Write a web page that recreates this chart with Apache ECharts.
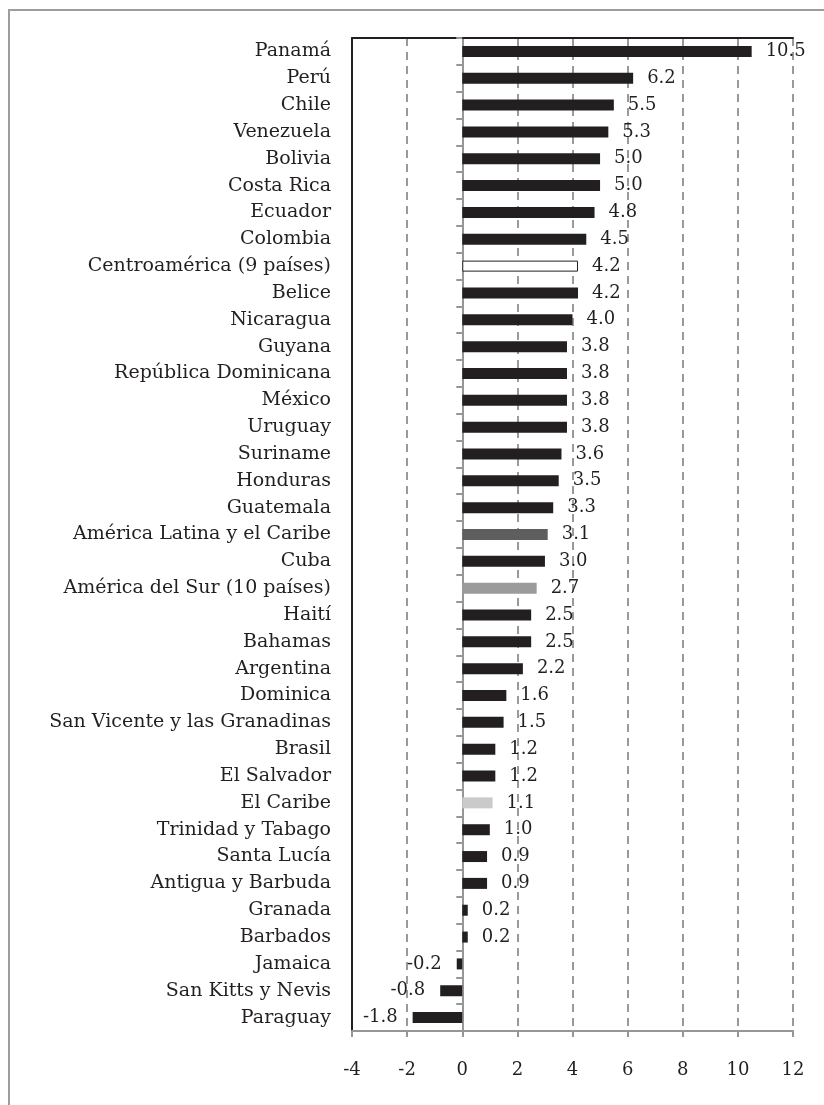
<!DOCTYPE html>
<html>
<head>
<meta charset="utf-8">
<script src="https://cdn.jsdelivr.net/npm/echarts@6/dist/echarts.min.js"></script>
<style>
html,body{margin:0;padding:0;background:#fff;}
#chart{width:824px;height:1105px;}
</style>
</head>
<body>
<div id="chart"></div>
<script>
const categories = [
  'Panamá','Perú','Chile','Venezuela','Bolivia','Costa Rica','Ecuador','Colombia',
  'Centroamérica (9 países)','Belice','Nicaragua','Guyana','República Dominicana',
  'México','Uruguay','Suriname','Honduras','Guatemala','América Latina y el Caribe',
  'Cuba','América del Sur (10 países)','Haití','Bahamas','Argentina','Dominica',
  'San Vicente y las Granadinas','Brasil','El Salvador','El Caribe','Trinidad y Tabago',
  'Santa Lucía','Antigua y Barbuda','Granada','Barbados','Jamaica','San Kitts y Nevis','Paraguay'
];
const values = [
  10.5, 6.2, 5.5, 5.3, 5.0, 5.0, 4.8, 4.5,
  4.2, 4.2, 4.0, 3.8, 3.8,
  3.8, 3.8, 3.6, 3.5, 3.3, 3.1,
  3.0, 2.7, 2.5, 2.5, 2.2, 1.6,
  1.5, 1.2, 1.2, 1.1, 1.0,
  0.9, 0.9, 0.2, 0.2, -0.2, -0.8, -1.8
];
const xTicks = [-4, -2, 0, 2, 4, 6, 8, 10, 12];

const FONT = 'DejaVu Serif';
const INK = '#231f20';
const specialStyles = {
  'Centroamérica (9 países)': { color: '#ffffff', borderColor: INK, borderWidth: 1 },
  'América Latina y el Caribe': { color: '#5e5e5e' },
  'América del Sur (10 países)': { color: '#9b9b9b' },
  'El Caribe': { color: '#cacaca' }
};

const seriesData = values.map((v, i) => {
  const st = specialStyles[categories[i]] || { color: INK };
  return {
    value: v,
    itemStyle: st,
    label: {
      position: v < 0 ? 'left' : 'right',
      distance: v < 0 ? 15 : 14
    }
  };
});

const chart = echarts.init(document.getElementById('chart'), null, { renderer: 'canvas' });
chart.setOption({
  animation: false,
  backgroundColor: '#ffffff',
  graphic: [{
    type: 'rect',
    shape: { x: 9, y: 10, width: 900, height: 1200 },
    style: { fill: 'none', stroke: '#9d9d9d', lineWidth: 2 },
    silent: true
  }],
  grid: { left: 352, right: 31, top: 38, bottom: 74, containLabel: false },
  xAxis: [{
    type: 'value',
    min: xTicks[0],
    max: xTicks[xTicks.length - 1],
    interval: 2,
    position: 'bottom',
    axisLine: { show: true, onZero: false, lineStyle: { color: '#969696', width: 2 } },
    axisTick: { show: true, length: 6, lineStyle: { color: '#969696', width: 2 } },
    axisLabel: { color: INK, fontFamily: FONT, fontSize: 18, margin: 30 },
    splitLine: { show: true, lineStyle: { color: '#7a7a7a', width: 1.5, type: [8, 6] } }
  }, {
    type: 'value',
    min: xTicks[0],
    max: xTicks[xTicks.length - 1],
    interval: 2,
    position: 'top',
    axisLine: { show: true, onZero: false, lineStyle: { color: INK, width: 2 } },
    axisTick: { show: false },
    axisLabel: { show: false },
    splitLine: { show: false }
  }],
  yAxis: [{
    type: 'category',
    data: categories,
    inverse: true,
    position: 'left',
    axisLine: { show: true, onZero: false, lineStyle: { color: INK, width: 2 } },
    axisTick: { show: false },
    axisLabel: { color: INK, fontFamily: FONT, fontSize: 19, margin: 21 },
    splitLine: { show: false }
  }, {
    type: 'category',
    data: categories,
    inverse: true,
    position: 'right',
    axisLine: { show: true, onZero: true, lineStyle: { color: '#969696', width: 2 } },
    axisTick: { show: true, inside: true, length: 6, lineStyle: { color: '#969696', width: 2 } },
    axisLabel: { show: false },
    splitLine: { show: false }
  }],
  series: [{
    type: 'bar',
    xAxisIndex: 0,
    yAxisIndex: 0,
    barWidth: 11,
    data: seriesData,
    label: {
      show: true,
      color: INK,
      fontFamily: FONT,
      fontSize: 18,
      formatter: p => p.value.toFixed(1)
    }
  }]
});
</script>
</body>
</html>
